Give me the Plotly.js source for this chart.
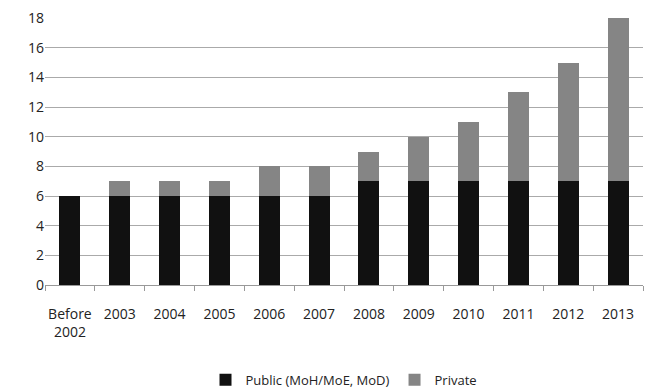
<!DOCTYPE html>
<html>
<head>
<meta charset="utf-8">
<script src="https://cdn.plot.ly/plotly-3.0.1.min.js"></script>
<style>html,body{margin:0;padding:0;background:#fff;}#chart{width:657px;height:390px;}</style>
</head>
<body>
<div id="chart"></div>
<script>
const categories = ["Before<br>2002","2003","2004","2005","2006","2007","2008","2009","2010","2011","2012","2013"];
const publicValues = [6,6,6,6,6,6,7,7,7,7,7,7];
const privateValues = [0,1,1,1,2,2,2,3,4,6,8,11];
const seriesNames = ["Public (MoH/MoE, MoD)","Private"];
const yTicks = [0,2,4,6,8,10,12,14,16,18];

const font = {family: "Open Sans, Noto Sans, sans-serif", size: 14, color: "#222"};
const traces = [
  {type:"bar", name: seriesNames[0], x: categories, y: publicValues, marker:{color:"#111111"}},
  {type:"bar", name: seriesNames[1], x: categories, y: privateValues, marker:{color:"#858585"}}
];
const layout = {
  width: 657, height: 390,
  margin: {l:45, r:14, t:18, b:105, autoexpand:false},
  barmode: "stack",
  bargap: 0.58,
  paper_bgcolor:"#fff", plot_bgcolor:"#fff",
  font: font,
  showlegend: true,
  legend: {orientation:"h", x:0.5, xanchor:"center", y:-0.355, yanchor:"middle", itemwidth:30, font:{family:font.family,size:13,color:"#222"}, traceorder:"normal"},
  xaxis: {type:"category", showgrid:false, showline:true, linecolor:"#999", ticks:"outside", tickson:"boundaries", ticklen:5, tickcolor:"#999", ticklabelstandoff:16, tickfont:{family:font.family,size:14,color:"#222"}, tickangle:0},
  yaxis: {range:[0,18], tickvals: yTicks, showgrid:true, gridcolor:"#aaa", gridwidth:1, zeroline:false, showline:false, ticks:"", tickfont:{family:font.family,size:14,color:"#222"}}
};
Plotly.newPlot("chart", traces, layout, {displayModeBar:false, staticPlot:true});
</script>
</body>
</html>
